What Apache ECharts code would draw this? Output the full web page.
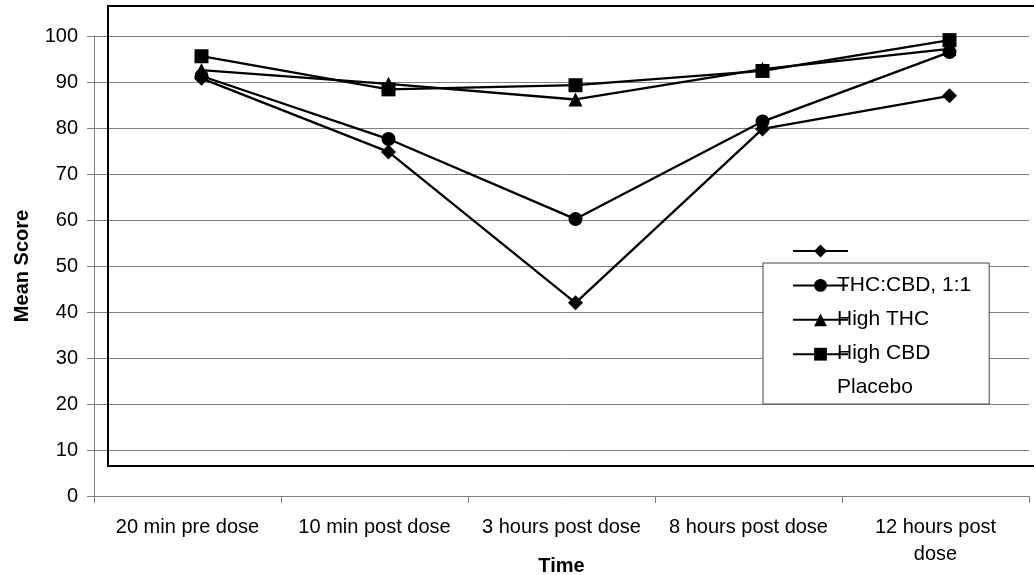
<!DOCTYPE html>
<html>
<head>
<meta charset="utf-8">
<script src="https://cdn.jsdelivr.net/npm/echarts@6/dist/echarts.min.js"></script>
<style>html,body{margin:0;padding:0;background:#fff}#c{width:1034px;height:575px}</style>
</head>
<body>
<div id="c"></div>
<script>
var categories = ['20 min pre dose', '10 min post dose', '3 hours post dose', '8 hours post dose', '12 hours post\ndose'];
var yTicks = [0, 10, 20, 30, 40, 50, 60, 70, 80, 90, 100];
var seriesNames = ['THC:CBD, 1:1', 'High THC', 'High CBD', 'Placebo'];
var seriesSymbols = ['diamond', 'circle', 'triangle', 'rect'];
var thcCbd = [90.8, 74.8, 42.0, 79.8, 87.0];
var highThc = [91.3, 77.6, 60.2, 81.4, 96.5];
var highCbd = [92.6, 89.6, 86.2, 92.8, 97.2];
var placebo = [95.6, 88.4, 89.3, 92.4, 99.1];
var seriesValues = [thcCbd, highThc, highCbd, placebo];

var FONT = "'Liberation Sans', Arial, sans-serif";
var chart = echarts.init(document.getElementById('c'), null, {renderer: 'canvas'});
var symbolSizes = {diamond: 15, circle: 14, triangle: 14, rect: 14};

var series = seriesNames.map(function (name, i) {
  return {
    name: name,
    type: 'line',
    xAxisIndex: 1,
    yAxisIndex: 1,
    data: seriesValues[i],
    symbol: seriesSymbols[i],
    symbolSize: symbolSizes[seriesSymbols[i]],
    showAllSymbol: true,
    lineStyle: {color: '#000', width: 2.3},
    itemStyle: {color: '#000', borderWidth: 0},
    z: 4,
    animation: false
  };
});

chart.setOption({
  animation: false,
  backgroundColor: '#fff',
  textStyle: {fontFamily: FONT, color: '#000'},
  grid: [
    {left: 94, top: 36, width: 935, height: 460, containLabel: false, outerBoundsMode: 'none'},
    {left: 108, top: 36, width: 935, height: 460, containLabel: false, outerBoundsMode: 'none'}
  ],
  xAxis: [
    {
      type: 'category', gridIndex: 0, data: categories, boundaryGap: true,
      axisLine: {show: true, lineStyle: {color: '#808080', width: 1}},
      axisTick: {show: true, length: 7, interval: 0, alignWithLabel: false, lineStyle: {color: '#808080'}},
      axisLabel: {interval: 0, color: '#000', fontSize: 20, fontFamily: FONT, margin: 18, lineHeight: 27},
      splitLine: {show: false},
      name: 'Time', nameLocation: 'middle', nameGap: 60, nameMoveOverlap: false,
      nameTextStyle: {fontWeight: 'bold', fontSize: 20, color: '#000', fontFamily: FONT}
    },
    {
      type: 'category', gridIndex: 1, data: categories, boundaryGap: true, show: false
    }
  ],
  yAxis: [
    {
      type: 'value', gridIndex: 0, min: yTicks[0], max: yTicks[yTicks.length - 1], interval: 10,
      axisLine: {show: true, lineStyle: {color: '#808080', width: 1}},
      axisTick: {show: true, length: 7, lineStyle: {color: '#808080'}},
      axisLabel: {color: '#000', fontSize: 20, fontFamily: FONT, margin: 16},
      splitLine: {show: true, lineStyle: {color: '#808080', width: 1}},
      name: 'Mean Score', nameLocation: 'middle', nameGap: 62, nameRotate: 90, nameMoveOverlap: false,
      nameTextStyle: {fontWeight: 'bold', fontSize: 20, color: '#000', fontFamily: FONT}
    },
    {
      type: 'value', gridIndex: 1, min: yTicks[0], max: yTicks[yTicks.length - 1], show: false,
      splitLine: {show: false}
    }
  ],
  legend: [
    {
      id: 'icons',
      orient: 'vertical',
      left: 792, top: 243,
      padding: 0,
      itemWidth: 55, itemHeight: 16, itemGap: 20,
      data: seriesNames,
      formatter: function () { return ''; },
      selectedMode: false,
      z: 8
    },
    {
      id: 'texts',
      orient: 'vertical',
      left: 763, top: 263,
      padding: [12, 18, 6, 69],
      icon: 'none',
      itemWidth: 0, itemHeight: 20, itemGap: 13,
      data: seriesNames.slice(0),
      selectedMode: false,
      backgroundColor: '#fff',
      borderColor: '#444', borderWidth: 1,
      textStyle: {color: '#000', fontSize: 21, fontFamily: FONT},
      z: 6
    }
  ],
  graphic: [
    {
      type: 'rect', z: 3, silent: true,
      shape: {x: 108, y: 6, width: 1000, height: 460},
      style: {fill: null, stroke: '#000', lineWidth: 2}
    }
  ],
  series: series
});
</script>
</body>
</html>
